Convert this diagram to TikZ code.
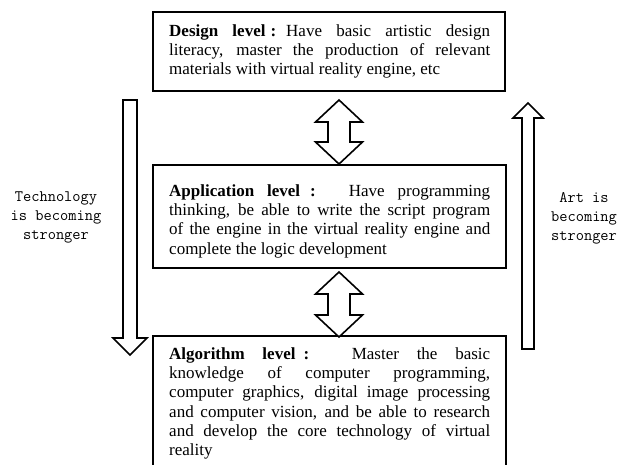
\documentclass[tikz,border=0pt]{standalone}
\usepackage{fontspec}
\setmainfont{Liberation Serif}
\tolerance=10000
\hbadness=10000
\hyphenpenalty=10000
\tikzset{
  levelbox/.style={draw=black, line width=1.8pt, fill=white},
  leveltext/.style={anchor=north west, inner sep=0pt, text width=321pt, align=justify,
    font=\fontsize{17pt}{19.2pt}\selectfont},
  sidetext/.style={anchor=north, inner sep=0pt, align=center,
    font=\ttfamily\fontsize{16pt}{19pt}\selectfont},
  blockarrow/.style={draw=black, line width=1.6pt, fill=white, line join=miter}
}
\begin{document}
\begin{tikzpicture}[x=1pt,y=-1pt]
\useasboundingbox (0,0) rectangle (620,464);
\clip (0,0) rectangle (620,464);
% boxes
\draw[levelbox] (153,12) rectangle (505,91);
\draw[levelbox] (153,165) rectangle (506,268);
\draw[levelbox] (153,336) rectangle (506,490);
% texts
\node[leveltext] (design) at (169,24.4) {\textbf{Design level\hspace{5pt}:}\hspace{10pt}Have basic artistic design\linebreak literacy, master the production of relevant\linebreak materials with virtual reality engine, etc};
\node[leveltext] (application) at (169,184.4) {\textbf{Application level\hspace{10pt}:}\hspace{10pt} Have programming\linebreak thinking, be able to write the script program\linebreak of the engine in the virtual reality engine and\linebreak complete the logic development};
\node[leveltext] (algorithm) at (169,347.4) {\textbf{Algorithm level\hspace{8pt}:}\hspace{10pt} Master the basic\linebreak knowledge of computer programming,\linebreak computer graphics, digital image processing\linebreak and computer vision, and be able to research\linebreak and develop the core technology of virtual\linebreak reality};
% double arrows between levels
\draw[blockarrow] (339,100) -- (362.5,122) -- (350,122) -- (350,142) -- (362.5,142) -- (339,164)
  -- (315.5,142) -- (328,142) -- (328,122) -- (315.5,122) -- cycle;
\draw[blockarrow] (339,272) -- (362.5,294) -- (350,294) -- (350,315) -- (362.5,315) -- (339,337)
  -- (315.5,315) -- (328,315) -- (328,294) -- (315.5,294) -- cycle;
% left arrow (down)
\draw[blockarrow] (123,100) -- (137,100) -- (137,338) -- (147,338) -- (130,355) -- (113,338)
  -- (123,338) -- cycle;
% right arrow (up)
\draw[blockarrow] (522,349) -- (534,349) -- (534,118) -- (543,118) -- (528,103) -- (513,118)
  -- (522,118) -- cycle;
% side labels
\node[sidetext] (tech) at (56,192) {Technology\\is becoming\\stronger};
\node[sidetext] (art) at (584,192) {Art is\\becoming\\stronger};
\end{tikzpicture}
\end{document}
